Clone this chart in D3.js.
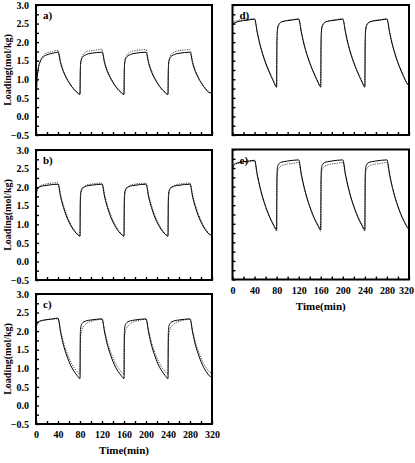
<!DOCTYPE html>
<html><head><meta charset="utf-8">
<script src="https://cdn.jsdelivr.net/npm/d3@7"></script>
<style>
html,body{margin:0;padding:0;background:#fff;}
svg{display:block;font-family:"Liberation Serif","Times New Roman",serif;font-weight:bold;}
</style></head>
<body>
<svg id="chart" width="415" height="463"></svg>
<script>
const time = [0,0.5,1,2,4,7,12,20,30,40,45,50,55,60,65,70,75,
 80,80.5,81,82,84,87,92,100,110,120,125,130,135,140,145,150,155,
 160,160.5,161,162,164,167,172,180,190,200,205,210,215,220,225,230,235,
 240,240.5,241,242,244,247,252,260,270,280,285,290,295,300,305,310,315,
 320];

const aSolid = [0.00,0.40,0.70,1.00,1.28,1.45,1.58,1.66,1.70,1.73,1.42,1.20,1.04,0.91,0.80,0.71,0.64,
 0.59,1.20,1.40,1.50,1.58,1.63,1.67,1.70,1.72,1.73,1.42,1.20,1.04,0.91,0.80,0.71,0.64,
 0.59,1.20,1.40,1.50,1.58,1.63,1.67,1.70,1.72,1.73,1.42,1.20,1.04,0.91,0.80,0.71,0.64,
 0.59,1.20,1.40,1.50,1.58,1.63,1.67,1.70,1.72,1.73,1.42,1.20,1.04,0.91,0.80,0.71,0.64,
 0.63];
const aDotted = [0.00,0.38,0.66,0.97,1.27,1.47,1.62,1.71,1.75,1.78,1.46,1.23,1.06,0.93,0.81,0.72,0.65,
 0.60,1.15,1.38,1.52,1.62,1.69,1.74,1.77,1.79,1.80,1.47,1.24,1.07,0.93,0.81,0.72,0.65,
 0.60,1.15,1.38,1.52,1.62,1.69,1.74,1.77,1.79,1.80,1.47,1.24,1.07,0.93,0.81,0.72,0.65,
 0.60,1.15,1.38,1.52,1.62,1.69,1.74,1.77,1.79,1.80,1.47,1.24,1.07,0.93,0.81,0.72,0.65,
 0.63];

const bSolid = [1.55,1.75,1.85,1.93,1.98,2.01,2.03,2.05,2.07,2.08,1.72,1.45,1.23,1.06,0.92,0.81,0.73,
 0.68,1.60,1.80,1.90,1.97,2.00,2.03,2.05,2.07,2.08,1.72,1.45,1.23,1.06,0.92,0.81,0.73,
 0.68,1.60,1.80,1.90,1.97,2.00,2.03,2.05,2.07,2.08,1.72,1.45,1.23,1.06,0.92,0.81,0.73,
 0.68,1.60,1.80,1.90,1.97,2.00,2.03,2.05,2.07,2.08,1.72,1.45,1.23,1.06,0.92,0.81,0.73,
 0.70];
const bDotted = [1.50,1.70,1.82,1.92,1.99,2.03,2.06,2.09,2.11,2.12,1.78,1.51,1.29,1.11,0.96,0.84,0.75,
 0.69,1.45,1.68,1.84,1.94,2.00,2.05,2.08,2.10,2.11,1.78,1.51,1.29,1.11,0.96,0.84,0.75,
 0.69,1.45,1.68,1.84,1.94,2.00,2.05,2.08,2.10,2.11,1.78,1.51,1.29,1.11,0.96,0.84,0.75,
 0.69,1.45,1.68,1.84,1.94,2.00,2.05,2.08,2.10,2.11,1.78,1.51,1.29,1.11,0.96,0.84,0.75,
 0.71];

const cSolid = [1.95,2.10,2.16,2.20,2.24,2.27,2.29,2.31,2.33,2.35,1.95,1.62,1.38,1.18,1.02,0.90,0.80,
 0.72,1.85,2.05,2.15,2.21,2.25,2.28,2.30,2.32,2.33,1.95,1.62,1.38,1.18,1.02,0.90,0.80,
 0.72,1.85,2.05,2.15,2.21,2.25,2.28,2.30,2.32,2.33,1.95,1.62,1.38,1.18,1.02,0.90,0.80,
 0.72,1.85,2.05,2.15,2.21,2.25,2.28,2.30,2.32,2.33,1.95,1.62,1.38,1.18,1.02,0.90,0.80,
 0.76];
const cDotted = [1.90,2.05,2.12,2.18,2.23,2.26,2.29,2.31,2.32,2.33,2.00,1.70,1.47,1.28,1.12,1.00,0.91,
 0.84,1.55,1.80,1.95,2.06,2.14,2.21,2.26,2.30,2.32,2.00,1.70,1.47,1.28,1.12,1.00,0.91,
 0.84,1.55,1.80,1.95,2.06,2.14,2.21,2.26,2.30,2.32,2.00,1.70,1.47,1.28,1.12,1.00,0.91,
 0.84,1.55,1.80,1.95,2.06,2.14,2.21,2.26,2.30,2.32,2.00,1.70,1.47,1.28,1.12,1.00,0.91,
 0.88];

const dSolid = [2.45,2.47,2.48,2.50,2.52,2.54,2.56,2.58,2.60,2.62,2.25,1.92,1.66,1.44,1.25,1.08,0.92,
 0.79,1.95,2.25,2.40,2.48,2.53,2.56,2.58,2.60,2.62,2.25,1.92,1.66,1.44,1.25,1.08,0.92,
 0.79,1.95,2.25,2.40,2.48,2.53,2.56,2.58,2.60,2.62,2.25,1.92,1.66,1.44,1.25,1.08,0.92,
 0.79,1.95,2.25,2.40,2.48,2.53,2.56,2.58,2.60,2.62,2.25,1.92,1.66,1.44,1.25,1.08,0.92,
 0.82];
const dDotted = [2.50,2.51,2.52,2.53,2.55,2.57,2.59,2.60,2.62,2.63,2.27,1.94,1.68,1.46,1.27,1.10,0.94,
 0.80,1.75,2.15,2.35,2.46,2.52,2.56,2.59,2.61,2.63,2.27,1.94,1.68,1.46,1.27,1.10,0.94,
 0.80,1.75,2.15,2.35,2.46,2.52,2.56,2.59,2.61,2.63,2.27,1.94,1.68,1.46,1.27,1.10,0.94,
 0.80,1.75,2.15,2.35,2.46,2.52,2.56,2.59,2.61,2.63,2.27,1.94,1.68,1.46,1.27,1.10,0.94,
 0.83];

const eSolid = [2.48,2.52,2.55,2.58,2.61,2.63,2.65,2.67,2.69,2.71,2.32,1.98,1.70,1.47,1.27,1.10,0.96,
 0.84,2.10,2.45,2.55,2.61,2.65,2.67,2.69,2.71,2.72,2.32,1.98,1.70,1.47,1.27,1.10,0.96,
 0.84,2.10,2.45,2.55,2.61,2.65,2.67,2.69,2.71,2.72,2.32,1.98,1.70,1.47,1.27,1.10,0.96,
 0.84,2.10,2.45,2.55,2.61,2.65,2.67,2.69,2.71,2.72,2.32,1.98,1.70,1.47,1.27,1.10,0.96,
 0.86];
const eDotted = [2.45,2.50,2.53,2.56,2.59,2.61,2.63,2.65,2.67,2.69,2.28,1.95,1.68,1.45,1.25,1.08,0.93,
 0.80,1.90,2.30,2.42,2.50,2.55,2.58,2.61,2.63,2.65,2.28,1.95,1.68,1.45,1.25,1.08,0.93,
 0.80,1.90,2.30,2.42,2.50,2.55,2.58,2.61,2.63,2.65,2.28,1.95,1.68,1.45,1.25,1.08,0.93,
 0.80,1.90,2.30,2.42,2.50,2.55,2.58,2.61,2.63,2.65,2.28,1.95,1.68,1.45,1.25,1.08,0.93,
 0.83];

const panelLabels = ["a)","b)","c)","d)","e)"];
const xTickValues = [0,40,80,120,160,200,240,280,320];
const xMinorTicks = [0,20,40,60,80,100,120,140,160,180,200,220,240,260,280,300,320];
const yTickValues = [-0.5,0.0,0.5,1.0,1.5,2.0,2.5,3.0];
const yMinorTicks = [-0.5,-0.25,0,0.25,0.5,0.75,1,1.25,1.5,1.75,2,2.25,2.5,2.75,3];
const yLabel = "Loading(mol/kg)";
const xLabel = "Time(min)";

const panels = [
  {label:panelLabels[0], solid:aSolid, dotted:aDotted, x0:36, x1:212, y0:5, y1:135, yAxis:true, xAxis:false},
  {label:panelLabels[1], solid:bSolid, dotted:bDotted, x0:36, x1:212, y0:150, y1:280, yAxis:true, xAxis:false},
  {label:panelLabels[2], solid:cSolid, dotted:cDotted, x0:36, x1:212, y0:294, y1:424, yAxis:true, xAxis:true},
  {label:panelLabels[3], solid:dSolid, dotted:dDotted, x0:232.5, x1:409, y0:5, y1:135, yAxis:false, xAxis:false},
  {label:panelLabels[4], solid:eSolid, dotted:eDotted, x0:232.5, x1:409, y0:149.5, y1:279.5, yAxis:false, xAxis:true}
];

const svg = d3.select("#chart");

panels.forEach((p,i)=>{
  const x = d3.scaleLinear().domain([0,320]).range([p.x0,p.x1]);
  const y = d3.scaleLinear().domain([-0.5,3.0]).range([p.y1,p.y0]);
  const g = svg.append("g");
  const cid = "clip"+i;
  svg.append("clipPath").attr("id",cid).append("rect")
    .attr("x",p.x0).attr("y",p.y0).attr("width",p.x1-p.x0).attr("height",p.y1-p.y0);

  const xAx = d3.axisBottom(x).tickValues(xMinorTicks).tickSize(-3).tickFormat("");
  g.append("g").attr("transform",`translate(0,${p.y1})`).call(xAx)
    .call(s=>s.select(".domain").remove())
    .call(s=>s.selectAll("line").attr("stroke","#000").attr("stroke-width",1.4));
  const yAx = d3.axisLeft(y).tickValues(yMinorTicks).tickSize(-3).tickFormat("");
  g.append("g").attr("transform",`translate(${p.x0},0)`).call(yAx)
    .call(s=>s.select(".domain").remove())
    .call(s=>s.selectAll("line").attr("stroke","#000").attr("stroke-width",1.4));

  if(p.yAxis){
    const yl = d3.axisLeft(y).tickValues(yTickValues).tickSize(0).tickPadding(7).tickFormat(d3.format(".1f"));
    g.append("g").attr("transform",`translate(${p.x0},0)`).call(yl)
      .call(s=>s.select(".domain").remove())
      .call(s=>s.selectAll("text").attr("font-size",10).attr("font-family","Liberation Serif, serif").attr("font-weight","bold").attr("fill","#000"));
    g.append("text").attr("transform",`translate(11,${(p.y0+p.y1)/2}) rotate(-90)`)
      .attr("text-anchor","middle").attr("font-size",10).attr("fill","#000").text(yLabel);
  }
  if(p.xAxis){
    const xl = d3.axisBottom(x).tickValues(xTickValues).tickSize(0).tickPadding(7).tickFormat(d3.format("d"));
    g.append("g").attr("transform",`translate(0,${p.y1})`).call(xl)
      .call(s=>s.select(".domain").remove())
      .call(s=>s.selectAll("text").attr("font-size",10).attr("font-family","Liberation Serif, serif").attr("font-weight","bold").attr("fill","#000"))
      .call(s=>s.selectAll(".tick").filter(d=>d===320 && p.x1>400).select("text").attr("dx",-3));
    g.append("text").attr("x",(p.x0+p.x1)/2).attr("y",p.y1+30)
      .attr("text-anchor","middle").attr("font-size",11).attr("fill","#000").text(xLabel);
  }

  const line = d3.line().x((d,k)=>x(time[k])).y(d=>y(d)).curve(d3.curveMonotoneX);
  const cg = g.append("g").attr("clip-path",`url(#${cid})`);
  cg.append("path").datum(p.dotted).attr("d",line).attr("fill","none")
    .attr("stroke","#444").attr("stroke-width",1).attr("stroke-dasharray","1.2,1.2");
  cg.append("path").datum(p.solid).attr("d",line).attr("fill","none")
    .attr("stroke","#000").attr("stroke-width",1);

  g.append("rect").attr("x",p.x0).attr("y",p.y0).attr("width",p.x1-p.x0).attr("height",p.y1-p.y0)
    .attr("fill","none").attr("stroke","#000").attr("stroke-width",2);

  g.append("text").attr("x",p.x0+7).attr("y",p.y0+14).attr("font-size",11).attr("fill","#000").text(p.label);
});
</script>
</body></html>
